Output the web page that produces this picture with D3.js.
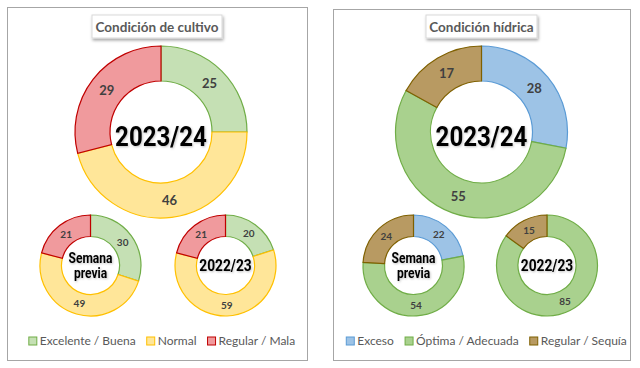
<!DOCTYPE html>
<html lang="es">
<head>
<meta charset="UTF-8">
<title>Condición de cultivo / hídrica</title>
<script src="https://cdn.jsdelivr.net/npm/d3@7"></script>
<style>
  body { margin: 0; background: #fff; }
  svg { position: absolute; left: 0; top: 0; }
  .lbl { font-family: Lato, "Open Sans", sans-serif; font-weight: bold; fill: #404040; }
  .ctr { font-family: Roboto, "DejaVu Sans", sans-serif; font-weight: bold; fill: #000; }
  .leg { font-family: Lato, "Open Sans", sans-serif; fill: #595959; font-size: 12px; }
  .ttl { font-family: Lato, "Open Sans", sans-serif; font-weight: bold; fill: #595959; font-size: 13.5px; }
</style>
</head>
<body>
<svg id="chart" width="640" height="368"></svg>
<script>
  // data
  var cultivoCats = ["Excelente / Buena", "Normal", "Regular / Mala"]
  var cultivo2324 = [25, 46, 29]
  var cultivoPrev = [30, 49, 21]
  var cultivo2223 = [20, 59, 21]

  var hidricaCats = ["Exceso", "Óptima / Adecuada", "Regular / Sequía"]
  var hidrica2324 = [28, 55, 17]
  var hidricaPrev = [22, 54, 24]
  var hidrica2223 = [0, 85, 15]

  var cultivoFill = ["#c5e0b4", "#ffe699", "#f09a9d"]
  var cultivoLine = ["#70ad47", "#ffc000", "#c00000"]
  var hidricaFill = ["#9dc3e6", "#a9d18e", "#b89a62"]
  var hidricaLine = ["#5b9bd5", "#70ad47", "#7f6000"]

  var svg = d3.select("#chart")

  var defs = svg.append("defs")
  defs.append("filter").attr("id", "shadow")
      .attr("x", "-20%").attr("y", "-30%").attr("width", "140%").attr("height", "180%")
    .append("feDropShadow")
      .attr("dx", 1).attr("dy", 2).attr("stdDeviation", 1.5)
      .attr("flood-color", "#000").attr("flood-opacity", 0.35)
  defs.append("filter").attr("id", "glow")
      .attr("x", "-20%").attr("y", "-30%").attr("width", "140%").attr("height", "160%")
    .append("feDropShadow")
      .attr("dx", 1).attr("dy", 1).attr("stdDeviation", 1)
      .attr("flood-color", "#000").attr("flood-opacity", 0.25)

  var pie = d3.pie().sort(null).value(function(d) { return d })

  // one donut ring with labels in the middle of each slice
  function donut(g, cx, cy, rOut, rIn, values, fills, lines, labelSize) {
    var arc = d3.arc().innerRadius(rIn).outerRadius(rOut)
    var grp = g.append("g").attr("transform", "translate(" + cx + "," + cy + ")")
    var arcs = pie(values).filter(function(a) { return a.data > 0 })
    grp.selectAll("path.slice")
        .data(arcs)
        .enter().append("path")
        .attr("class", "slice")
        .attr("d", arc)
        .attr("fill", function(d) { return fills[d.index] })
        .attr("stroke", function(d) { return lines[d.index] })
        .attr("stroke-width", 1.2)
    grp.selectAll("text.lbl")
        .data(arcs)
        .enter().append("text")
        .attr("class", "lbl")
        .attr("transform", function(d) { return "translate(" + arc.centroid(d) + ")" })
        .attr("text-anchor", "middle")
        .attr("dy", "0.36em")
        .style("font-size", labelSize + "px")
        .text(function(d) { return d.data })
    return grp
  }

  // condensed-looking centre caption
  function centerText(grp, lines, size, dy) {
    var t = grp.append("g").attr("transform", "translate(0," + dy + ") scale(0.86,1)")
      .append("text")
        .attr("class", "ctr")
        .attr("text-anchor", "middle")
        .attr("filter", "url(#glow)")
        .style("font-size", size + "px")
    var lh = size * 1.08
    lines.forEach(function(s, i) {
      t.append("tspan")
        .attr("x", 0)
        .attr("y", (i - (lines.length - 1) / 2) * lh)
        .attr("dy", "0.36em")
        .text(s)
    })
  }

  function panel(x0, y0, w, h, title, titleW, cats, big, prev, old, fills, lines, offs) {
    var g = svg.append("g")
    g.append("rect")
      .attr("x", x0 + 0.5).attr("y", y0 + 0.5)
      .attr("width", w).attr("height", h)
      .attr("fill", "#fff").attr("stroke", "#a6a6a6").attr("stroke-width", 1)

    var cx = x0 + w / 2
    g.append("rect")
      .attr("x", cx - titleW / 2).attr("y", 15)
      .attr("width", titleW).attr("height", 23)
      .attr("fill", "#fff").attr("stroke", "#d9d9d9")
      .attr("filter", "url(#shadow)")
    g.append("text").attr("class", "ttl")
      .attr("x", cx).attr("y", 27).attr("dy", "0.36em")
      .attr("text-anchor", "middle")
      .text(title)

    var b = donut(g, cx + offs[0], 132, 86, 51, big, fills, lines, 13)
    centerText(b, ["2023/24"], 28, 4)

    var p = donut(g, cx + offs[1], 265.5, 50.5, 29, prev, fills, lines, 10)
    centerText(p, ["Semana", "previa"], 14, 0)

    var o = donut(g, cx + offs[2], 265.5, 50.5, 29, old, fills, lines, 10)
    centerText(o, ["2022/23"], 16, 0)

    // legend
    var legY = 341
    var items = g.selectAll("g.item")
        .data(cats)
        .enter().append("g")
        .attr("class", "item")
    items.append("rect")
        .attr("width", 8).attr("height", 8)
        .attr("y", legY - 4)
        .attr("fill", function(d, i) { return fills[i] })
        .attr("stroke", function(d, i) { return lines[i] })
    items.append("text")
        .attr("class", "leg")
        .attr("x", 11)
        .attr("y", legY).attr("dy", "0.36em")
        .text(function(d) { return d })
    // lay out legend items left to right, centred (a bit right) in the panel
    var widths = []
    items.each(function() { widths.push(this.getBBox().width) })
    var gap = 11
    var total = d3.sum(widths) + gap * (widths.length - 1)
    var start = cx + 5 - total / 2
    items.attr("transform", function(d, i) {
      var x = start + d3.sum(widths.slice(0, i)) + gap * i
      return "translate(" + x + ",0)"
    })
  }

  panel(7, 7, 300, 353, "Condición  de cultivo", 130, cultivoCats,
        cultivo2324, cultivoPrev, cultivo2223, cultivoFill, cultivoLine, [4, -66.5, 68.5])
  panel(333, 9, 297, 351, "Condición  hídrica", 111, hidricaCats,
        hidrica2324, hidricaPrev, hidrica2223, hidricaFill, hidricaLine, [0, -68, 65.5])
</script>
</body>
</html>
